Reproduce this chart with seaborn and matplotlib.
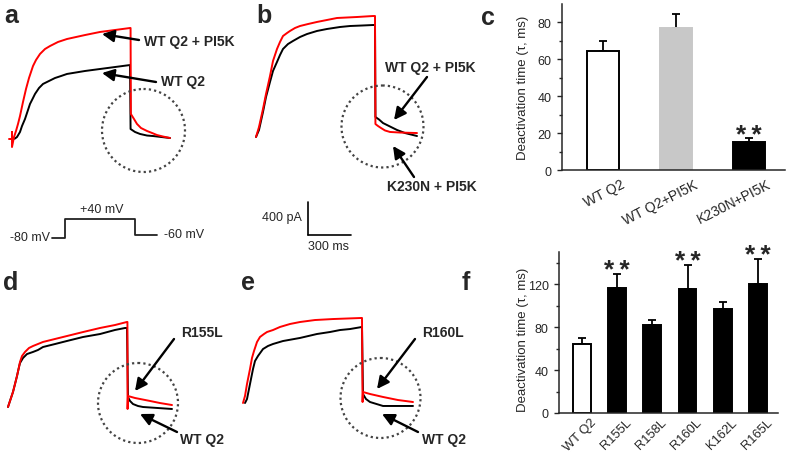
import numpy as np
import pandas as pd
import matplotlib
matplotlib.use("Agg")
import matplotlib.pyplot as plt
from matplotlib.patches import Circle
from matplotlib.transforms import ScaledTranslation
import seaborn as sns

# ---------------- data ----------------
# current traces: time (ms) and current (pA), baseline = 0 at pulse start
a_red_t = [-21, 0, 0, 0, 14, 28, 42, 56, 77, 98, 119, 147, 168, 196, 231, 266, 322, 385, 448, 511, 616, 721, 826, 830,
           832, 854, 875, 903, 945, 980, 1015, 1057, 1106]
a_red_i = [0, 0, 85, -97, 24, 97, 182, 278, 448, 605, 738, 883, 956, 1029, 1089, 1125, 1174, 1210, 1234, 1258, 1295, 1319, 1343, 1343,
           303, 242, 182, 133, 97, 73, 48, 30, 12]
a_blk_t = [-7, 7, 21, 35, 56, 70, 91, 112, 126, 147, 161, 189, 217, 259, 301, 343, 385, 448, 511, 616, 721, 826,
           830, 861, 896, 945, 987, 1106]
a_blk_i = [0, 0, 6, 24, 85, 157, 242, 351, 424, 496, 545, 617, 666, 702, 738, 762, 787, 805, 823, 847, 871, 895,
           121, 85, 61, 42, 36, 12]

b_red_t = [0, 21, 49, 70, 98, 119, 147, 168, 189, 217, 238, 273, 308, 364, 427, 497, 567, 637, 707, 819, 833,
           836, 854, 875, 903, 938, 1008, 1127]
b_red_i = [0, 121, 339, 520, 738, 920, 1065, 1150, 1222, 1258, 1283, 1319, 1343, 1367, 1392, 1416, 1440, 1446, 1452, 1464, 1464,
           157, 133, 109, 79, 61, 54, 48]
b_blk_t = [0, 21, 49, 70, 98, 119, 147, 168, 189, 224, 259, 308, 357, 427, 497, 588, 658, 742, 819, 833,
           836, 861, 889, 938, 987, 1043, 1127]
b_blk_i = [0, 85, 303, 484, 666, 799, 908, 992, 1065, 1125, 1162, 1210, 1246, 1283, 1307, 1331, 1343, 1349, 1355, 1355,
           242, 212, 169, 127, 85, 48, 12]

d_red_t = [0, 14, 35, 49, 63, 77, 84, 98, 119, 147, 175, 245, 329, 413, 525, 644, 749, 833, 836,
           837, 840, 889, 994, 1064, 1148]
d_red_i = [0, 73, 182, 278, 375, 484, 545, 617, 666, 714, 738, 787, 823, 859, 907, 956, 992, 1029, 1029,
           -24, 133, 109, 73, 48, 24]
d_blk_t = [0, 14, 35, 49, 63, 77, 84, 105, 133, 175, 210, 245, 329, 413, 525, 644, 749, 819, 833,
           840, 854, 875, 910, 945, 1148]
d_blk_i = [0, 73, 182, 278, 375, 484, 532, 593, 641, 666, 690, 726, 762, 799, 847, 883, 932, 956, 956,
           121, 73, 36, 12, 0, -24]

e_red_t = [0, 14, 28, 49, 63, 77, 98, 119, 147, 168, 210, 259, 329, 399, 504, 630, 833, 837,
           840, 889, 980, 1085, 1190]
e_red_i = [0, 85, 230, 411, 545, 629, 738, 799, 835, 859, 883, 920, 956, 980, 1004, 1016, 1029, 12,
           133, 109, 73, 36, 12]
e_blk_t = [14, 28, 49, 70, 84, 105, 140, 175, 210, 280, 399, 518, 609, 679, 749, 833,
           840, 861, 889, 980, 1190]
e_blk_i = [0, 48, 230, 411, 508, 569, 653, 690, 714, 750, 787, 835, 859, 883, 895, 920,
           109, 48, 12, -36, -36]

# voltage protocol
proto_t = [-150, 0, 0, 800, 800, 1050]
proto_v = [-80, -80, 40, 40, -60, -60]
proto_labels = ["-80 mV", "+40 mV", "-60 mV"]

# scale bar
scale_pa = 400
scale_ms = 300

# bar charts
c_labels = ["WT Q2", "WT Q2+PI5K", "K230N+PI5K"]
c_vals = [64.5, 77.0, 15.2]
c_errs = [5.3, 7.4, 2.1]
c_sig = ["", "", "**"]
c_colors = ["#ffffff", "#c8c8c8", "#000000"]

f_labels = ["WT Q2", "R155L", "R158L", "R160L", "K162L", "R165L"]
f_vals = [64.3, 116.5, 82.3, 115.5, 96.9, 119.9]
f_errs = [5.6, 13.0, 4.6, 22.7, 6.2, 23.6]
f_sig = ["", "**", "", "**", "", "**"]
f_colors = ["#ffffff", "#000000", "#000000", "#000000", "#000000", "#000000"]

# ---------------- style ----------------
sns.set_style("ticks")
plt.rcParams["font.family"] = ["Liberation Sans", "DejaVu Sans"]

W, H = 787, 456
fig = plt.figure(figsize=(W / 100, H / 100), dpi=100)

MS_PX = 7.0    # ms per pixel
PA_PX = 12.1   # pA per pixel


def trace_axes(x0, y0, ms_px=MS_PX, unit_px=PA_PX):
    ax = fig.add_axes([0, 0, 1, 1])
    ax.set_xlim(-x0 * ms_px, (W - x0) * ms_px)
    ax.set_ylim(-(H - y0) * unit_px, y0 * unit_px)
    ax.axis("off")
    ax.patch.set_alpha(0)
    return ax


def draw_pair(ax, bt, bi, rt, ri):
    sns.lineplot(x=bt, y=bi, ax=ax, color="black", lw=1.4, sort=False, estimator=None)
    sns.lineplot(x=rt, y=ri, ax=ax, color="#ff0000", lw=1.4, sort=False, estimator=None)


ax_a = trace_axes(12, 140)
draw_pair(ax_a, a_blk_t, a_blk_i, a_red_t, a_red_i)
ax_b = trace_axes(256, 138)
draw_pair(ax_b, b_blk_t, b_blk_i, b_red_t, b_red_i)
ax_d = trace_axes(8, 408)
draw_pair(ax_d, d_blk_t, d_blk_i, d_red_t, d_red_i)
ax_e = trace_axes(243, 404)
draw_pair(ax_e, e_blk_t, e_blk_i, e_red_t, e_red_i)

# scale bar in panel b units
sb_t0, sb_i0 = 364, -1186
ax_b.plot([sb_t0, sb_t0], [sb_i0 + scale_pa, sb_i0], color="black", lw=1.2)
ax_b.plot([sb_t0, sb_t0 + scale_ms], [sb_i0, sb_i0], color="black", lw=1.2)

# protocol axes
ax_p = trace_axes(65, 226.3, ms_px=11.43, unit_px=6.33)
sns.lineplot(x=proto_t, y=proto_v, ax=ax_p, color="#222222", lw=1.3, sort=False, estimator=None)


# ---------------- bar charts ----------------
def bar_panel(rect_px, labels, vals, errs, colors, sig, width, ylim, xlim,
              major, minor, rot, dx_px, dy_px, lab_fs, ylab_xy):
    l, r, t, b = rect_px
    ax = fig.add_axes([l / W, 1 - b / H, (r - l) / W, (b - t) / H])
    sns.barplot(x=labels, y=vals, hue=labels, palette=colors, legend=False,
                width=width, ax=ax, saturation=1, linewidth=1.4)
    for p, c in zip(ax.patches, colors):
        p.set_edgecolor("black" if c in ("#ffffff", "#000000") else c)
    n = len(vals)
    ax.errorbar(range(n), vals, yerr=[np.zeros(n), errs], fmt="none",
                ecolor="black", elinewidth=1.3, capsize=3, capthick=1.3, zorder=0.5)
    for i in range(n):
        if sig[i]:
            ax.annotate("\u2009".join(sig[i]), xy=(i, vals[i] + errs[i]), xytext=(0, -2.5),
                        textcoords="offset points", ha="center", va="baseline",
                        fontsize=19, fontweight="bold")
    ax.set_ylim(*ylim)
    ax.set_xlim(*xlim)
    ax.set_yticks(major)
    ax.set_yticks(minor, minor=True)
    ax.set_xticks(range(n))
    ax.set_xticklabels([])
    off = ScaledTranslation(dx_px / 100, -dy_px / 100, fig.dpi_scale_trans)
    for i, lab in enumerate(labels):
        ax.text(i, 0, lab, transform=ax.get_xaxis_transform() + off, rotation=rot,
                ha="right", va="top", rotation_mode="anchor", fontsize=lab_fs)
    ax.tick_params(axis="x", length=0)
    ax.tick_params(axis="y", which="major", direction="out", length=3.5, width=1.0,
                   labelsize=9, pad=4)
    ax.tick_params(axis="y", which="minor", direction="out", length=2, width=1.0)
    for s in ("top", "right"):
        ax.spines[s].set_visible(False)
    for s in ("left", "bottom"):
        ax.spines[s].set_linewidth(1.1)
    ax.set_xlabel("")
    ax.set_ylabel("Deactivation time (\u03c4, ms)", fontsize=9.5)
    ax.yaxis.set_label_coords(*ylab_xy)
    return ax


ax_c = bar_panel((562, 785, 5, 171), c_labels, c_vals, c_errs, c_colors, c_sig, 0.44,
                 (0, 90), (-0.56, 2.49), [0, 20, 40, 60, 80], [10, 30, 50, 70],
                 27, 18, 7, 10, ((529 - 562) / 223, 0.5))
ax_f = bar_panel((559, 778, 253, 414), f_labels, f_vals, f_errs, f_colors, f_sig, 0.51,
                 (0, 150), (-0.65, 5.57), [0, 40, 80, 120], [20, 60, 100, 140],
                 45, 8, 3, 9.3, ((529 - 559) / 219, (414 - 340) / 161))

# ---------------- overlay annotations (pixel space) ----------------
ov = fig.add_axes([0, 0, 1, 1])
ov.set_xlim(0, W)
ov.set_ylim(H, 0)
ov.axis("off")
ov.patch.set_alpha(0)

for (x, y, s) in [(4, 23, "a"), (256, 23, "b"), (481, 25, "c"),
                  (3, 290, "d"), (241, 290, "e"), (462, 290, "f")]:
    ov.text(x, y, s, fontsize=18, fontweight="bold", ha="left", va="baseline")

for (cx, cy, r) in [(143.5, 131.5, 41.5), (382.5, 127.5, 41), (138, 404, 40), (380.5, 399, 40)]:
    ov.add_patch(Circle((cx, cy), r, fill=False, ls=(0, (1, 1.4)), lw=1.6, color="#444444"))

arrow_kw = dict(arrowstyle="-|>,head_length=0.6,head_width=0.3", color="black", lw=1.7,
                mutation_scale=12, shrinkA=0, shrinkB=0)
annots = [
    ("WT Q2 + PI5K", (144, 42), (139, 41), (102, 35)),
    ("WT Q2", (161, 82), (156, 83), (102, 74)),
    ("WT Q2 + PI5K", (385, 68), (427, 78), (394, 121)),
    ("K230N + PI5K", (387, 187), (414, 178), (393, 147)),
    ("R155L", (181, 333), (174, 340), (135, 392)),
    ("WT Q2", (180, 440), (177, 433), (140, 415)),
    ("R160L", (422, 333), (415, 340), (377, 390)),
    ("WT Q2", (422, 440), (418, 433), (382, 415)),
]
for s, (tx, ty), tail, head in annots:
    ov.text(tx, ty, s, fontsize=10, fontweight="bold", ha="left", va="center")
    ov.annotate("", xy=head, xytext=tail, arrowprops=arrow_kw)

ov.text(10, 238, proto_labels[0], fontsize=9, ha="left", va="center")
ov.text(102, 210, proto_labels[1], fontsize=9, ha="center", va="center")
ov.text(164, 235, proto_labels[2], fontsize=9, ha="left", va="center")
ov.text(302, 218, f"{scale_pa} pA", fontsize=9, ha="right", va="center")
ov.text(329, 247, f"{scale_ms} ms", fontsize=9, ha="center", va="center")

fig.savefig("out.png", dpi=100)
